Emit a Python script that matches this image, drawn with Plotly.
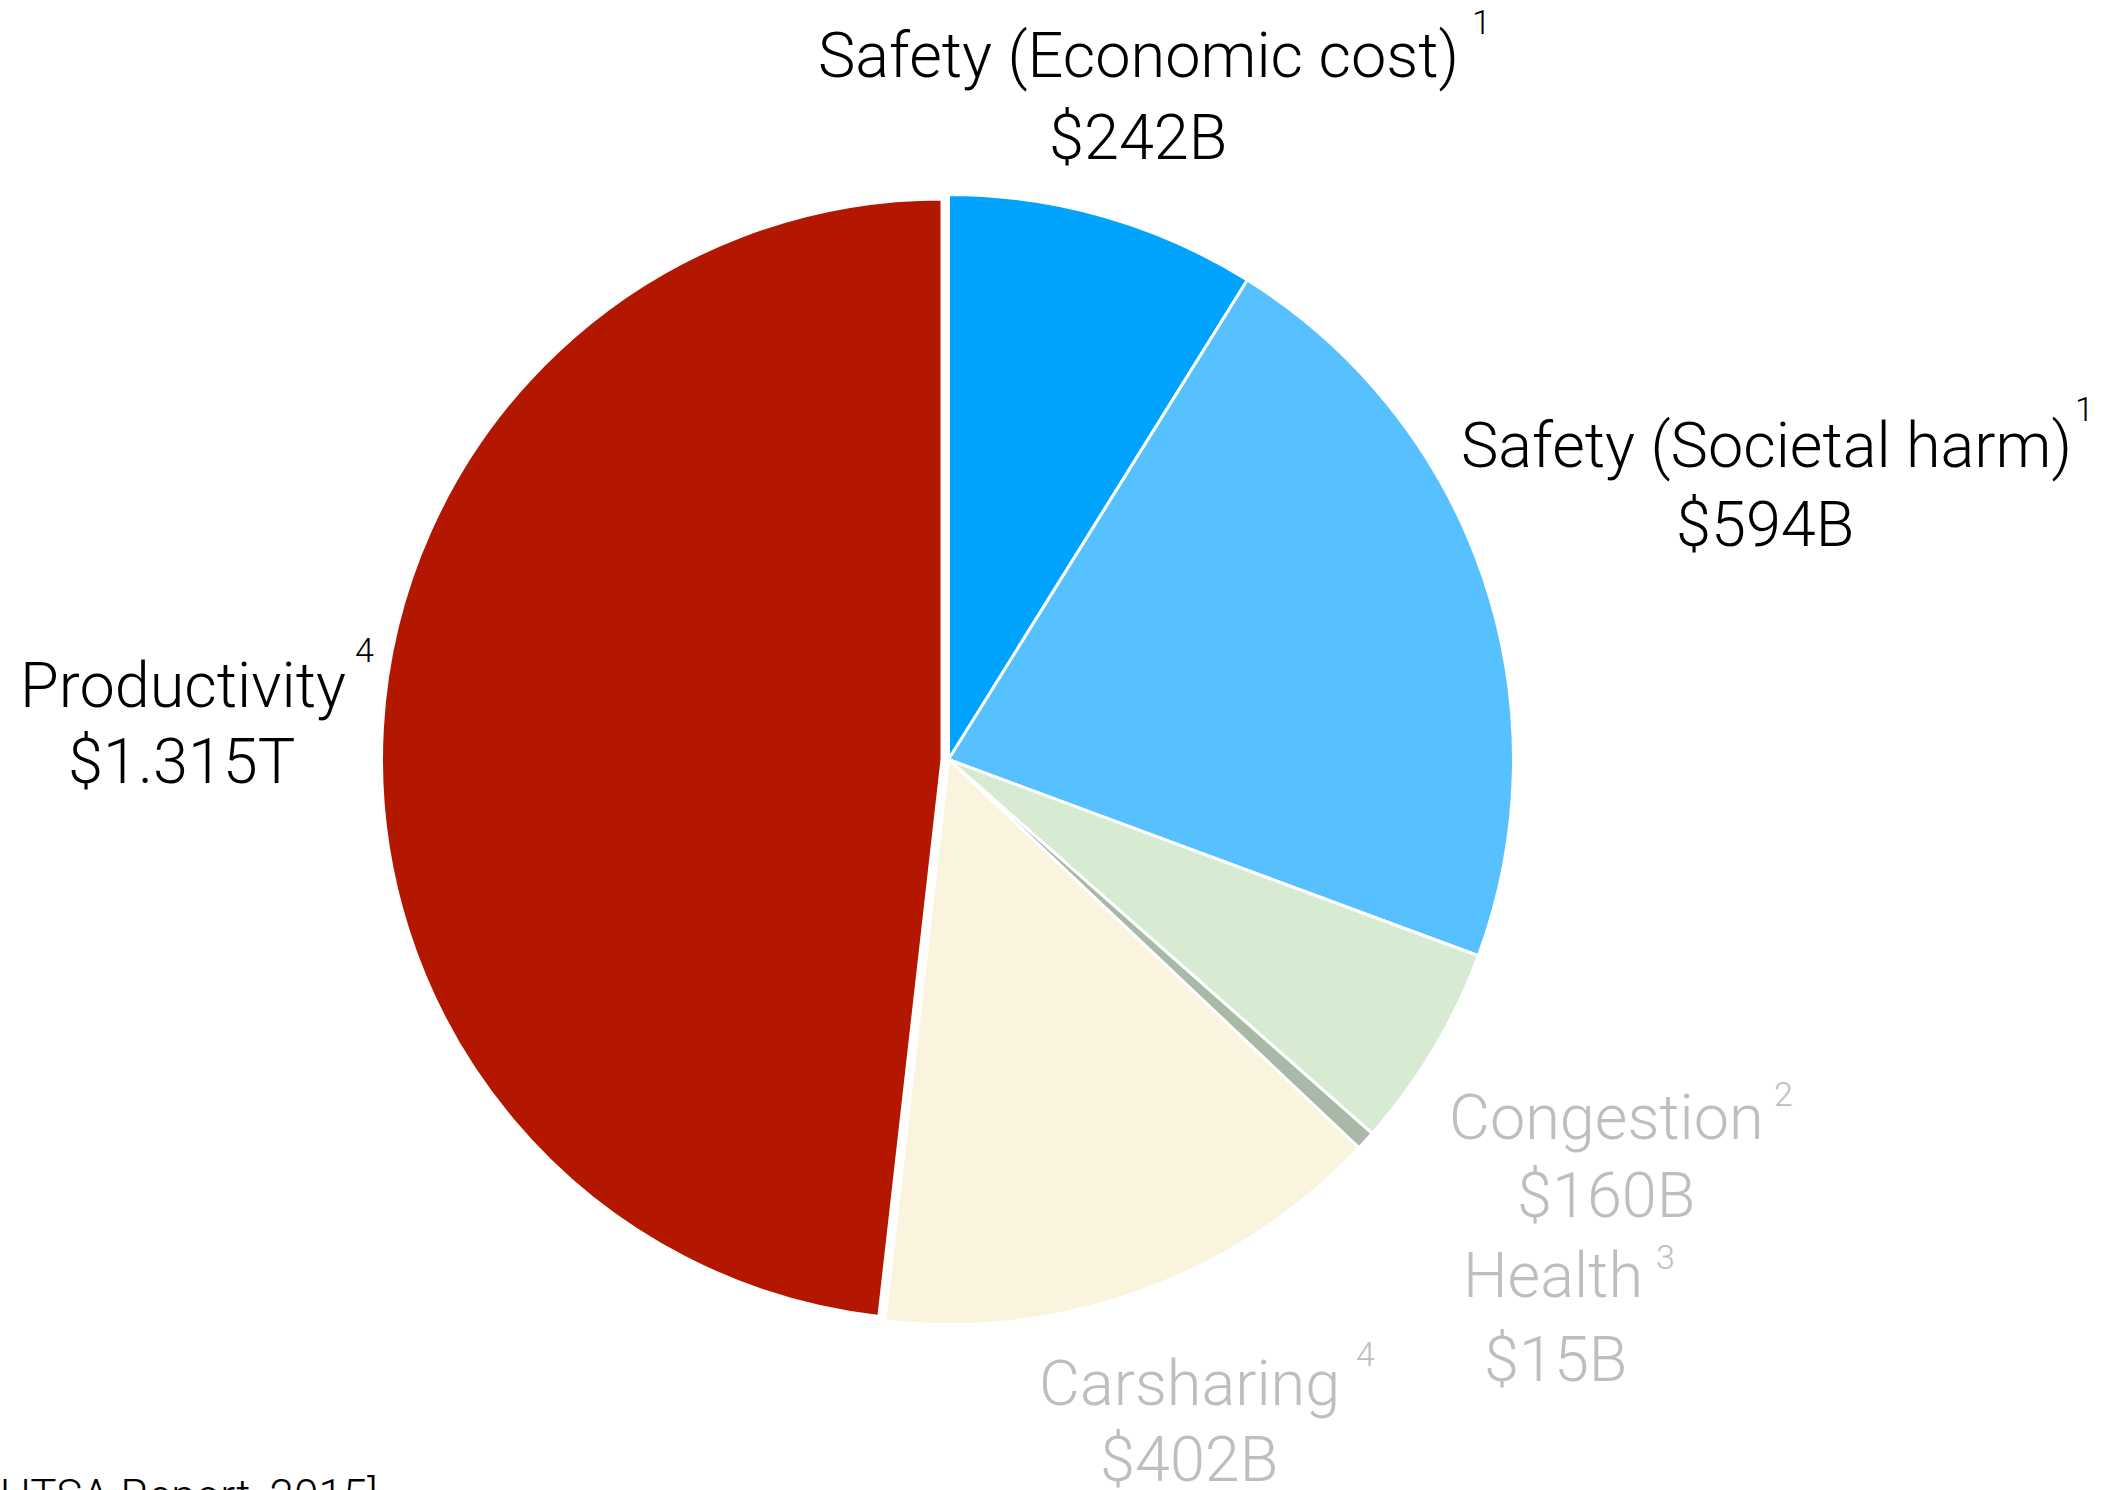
import plotly.graph_objects as go

W, H = 2105, 1490

# Annual cost categories (USD billions)
categories = ["Safety (Economic cost)", "Safety (Societal harm)", "Congestion",
              "Health", "Carsharing", "Productivity"]
values = [242, 594, 160, 15, 402, 1315]
value_labels = ["$242B", "$594B", "$160B", "$15B", "$402B", "$1.315T"]
footnotes = ["1", "1", "2", "3", "4", "4"]
colors = ["#00A3FE", "#57C0FE", "#D7EBD3", "#A8B9A8", "#FAF3DD", "#B31700"]
label_colors = ["#000000", "#000000", "#BEBEBE", "#BEBEBE", "#BEBEBE", "#000000"]
source_note = "[NHTSA Report, 2015]"

FONT = "Roboto"
TRANSPARENT = "rgba(0,0,0,0)"


def px_x(x):
    return x / W


def px_y(y):
    return 1 - y / H


def domain(cx, cy, r):
    return dict(x=[px_x(cx - r), px_x(cx + r)], y=[px_y(cy + r), px_y(cy - r)])


fig = go.Figure()

# main wheel: every slice except Productivity
main_colors = [c if i != 5 else TRANSPARENT for i, c in enumerate(colors)]
main_widths = [3 if i != 5 else 0 for i in range(len(values))]
fig.add_trace(go.Pie(
    labels=categories, values=values, sort=False, direction="clockwise",
    rotation=0, textinfo="none", hoverinfo="label+value",
    marker=dict(colors=main_colors, line=dict(color="white", width=main_widths)),
    domain=domain(948.5, 759.5, 565), showlegend=False,
))

# Productivity slice, set slightly apart from the rest
prod_colors = [c if i == 5 else TRANSPARENT for i, c in enumerate(colors)]
prod_widths = [3 if i == 5 else 0 for i in range(len(values))]
fig.add_trace(go.Pie(
    labels=categories, values=values, sort=False, direction="clockwise",
    rotation=0, textinfo="none", hoverinfo="label+value",
    marker=dict(colors=prod_colors, line=dict(color="white", width=prod_widths)),
    domain=domain(942, 759.5, 560.5), showlegend=False,
))

# label layout: (name center x, name y, value center x, value y, sup x, sup y)
label_pos = [
    (1138, 56, 1138, 137, 1481, 22),
    (1766, 446, 1765, 524, 2084, 409),
    (1606, 1117, 1606, 1195, 1783, 1094),
    (1553, 1275, 1555, 1359, 1665, 1257),
    (1189, 1383, 1189, 1459, 1365, 1354),
    (183, 685, 181, 761, 364, 650),
]

annotations = []
for i, (nx, ny, vx, vy, sx, sy) in enumerate(label_pos):
    col = label_colors[i]
    annotations.append(dict(
        x=px_x(nx), y=px_y(ny), xref="paper", yref="paper", text=categories[i],
        showarrow=False, xanchor="center", yanchor="middle",
        font=dict(family=FONT, size=63, color=col, weight=300)))
    annotations.append(dict(
        x=px_x(vx), y=px_y(vy), xref="paper", yref="paper", text=value_labels[i],
        showarrow=False, xanchor="center", yanchor="middle",
        font=dict(family=FONT, size=63, color=col, weight=300)))
    annotations.append(dict(
        x=px_x(sx), y=px_y(sy), xref="paper", yref="paper", text=footnotes[i],
        showarrow=False, xanchor="center", yanchor="middle",
        font=dict(family=FONT, size=34, color=col, weight=300)))

# source note running off the lower-left corner
annotations.append(dict(
    x=px_x(380), y=px_y(1496), xref="paper", yref="paper", text=source_note,
    showarrow=False, xanchor="right", yanchor="middle",
    font=dict(family=FONT, size=44, color="#000000", weight=300)))

fig.update_layout(
    width=W, height=H, autosize=False,
    margin=dict(l=0, r=0, t=0, b=0),
    paper_bgcolor="white", plot_bgcolor="white",
    annotations=annotations,
)

fig.write_html("out.html", config={"displayModeBar": False})
